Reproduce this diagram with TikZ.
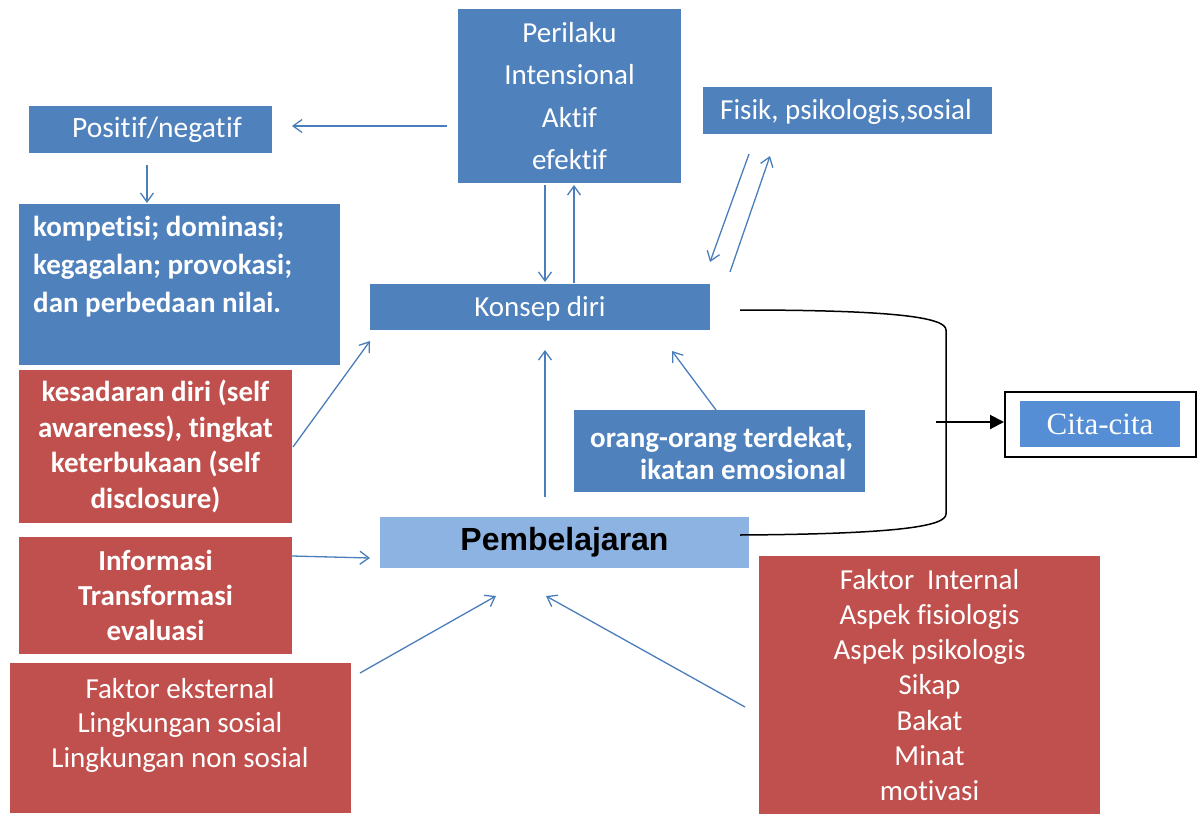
\documentclass[tikz,border=0pt]{standalone}
\usepackage{fontspec}
\setmainfont[RawFeature={-liga;-clig;-dlig;-calt}]{Carlito}
\newfontfamily\arialf{Liberation Sans}
\newfontfamily\timesf{Liberation Serif}
\usetikzlibrary{arrows.meta}
\definecolor{bluebox}{HTML}{4F81BD}
\definecolor{redbox}{HTML}{C0504D}
\definecolor{lightbox}{HTML}{8DB3E2}
\definecolor{citabox}{HTML}{558ED5}
\definecolor{arrowc}{HTML}{4A7EBB}
\begin{document}
\begin{tikzpicture}[x=1pt,y=-1pt,
  box/.style={anchor=north west, inner sep=0pt, outer sep=0pt, text=white, align=center,
    font=\fontsize{29}{35}\selectfont},
  bbox/.style={box, fill=bluebox},
  rbox/.style={box, fill=redbox},
  txt/.style={inner sep=0pt, text=white},
  arr/.style={draw=arrowc, line width=1.3pt, -{Straight Barb[length=9pt,width=13pt,line width=1.3pt]}},
]
\useasboundingbox (0,0) rectangle (1202,814);

% boxes
\node[bbox, minimum width=223, minimum height=174, font=\fontsize{29}{42.3}\selectfont]
  (perilaku) at (458,9) {Perilaku\\Intensional\\Aktif\\efektif};
\node[bbox, minimum width=243, minimum height=47] (positif) at (29,106) {};
\node[txt, font=\fontsize{29.5}{35}\selectfont] (positiftext) at (157,130) {Posit\kern0.6pt if/negat\kern0.6pt if};
\node[bbox, minimum width=321, minimum height=161] (kompetisi) at (19,204) {};
\node[txt, anchor=north west, align=left, font=\fontsize{29}{38}\selectfont\bfseries]
  (kompetisitext) at (33,216) {kompetisi; dominasi;\\kegagalan; provokasi;\\dan perbedaan nilai.};
\node[bbox, minimum width=289, minimum height=47] (fisik) at (703,87) {};
\node[txt, font=\fontsize{29}{35}\selectfont] (fisiktext) at (846,112) {Fisik, psikologis,sosial};
\node[bbox, minimum width=340, minimum height=46] (konsep) at (370,284) {};
\node[txt, font=\fontsize{29}{35}\selectfont] (konseptext) at (540,309) {Konsep diri};
\node[rbox, minimum width=273, minimum height=153, font=\fontsize{29}{35.5}\selectfont\bfseries]
  (kesadaran) at (19,370) {kesadaran diri (self\\awareness), tingkat\\keterbukaan (self\\disclosure)};
\node[bbox, minimum width=291, minimum height=82] (orang) at (574,410) {};
\node[txt, anchor=west, align=left, font=\fontsize{29}{32}\selectfont\bfseries]
  (orangtext) at (590,453) {orang-orang terdekat,\\\hspace*{50pt}ikatan emosional};
\node[box, fill=lightbox, minimum width=369, minimum height=51, text=black,
  font=\fontsize{32}{36}\selectfont\arialf\bfseries] (pemb) at (380,517) {Pembelajaran};
\node[rbox, minimum width=273, minimum height=117, font=\fontsize{29}{35}\selectfont\bfseries]
  (informasi) at (19,537) {Informasi\\Transformasi\\evaluasi};
\node[rbox, minimum width=341, minimum height=150] (eksternal) at (10,663) {};
\node[txt, align=center, font=\fontsize{29}{34.5}\selectfont]
  (eksternaltext) at (180,725) {Faktor eksternal\\Lingkungan sosial\\Lingkungan non sosial};
\node[rbox, minimum width=341, minimum height=258, font=\fontsize{29}{35.3}\selectfont]
  (internal) at (759,556) {Faktor~~Internal\\Aspek fisiologis\\Aspek psikologis\\Sikap\\Bakat\\Minat\\motivasi};
\node[anchor=north west, draw=black, line width=2pt, minimum width=191, minimum height=65, inner sep=0pt]
  (citaouter) at (1004,391) {};
\node[box, fill=citabox, minimum width=160, minimum height=46, font=\fontsize{31}{36}\selectfont\timesf]
  (cita) at (1020,401) {Cita-cita};

% connector end points
\coordinate (a1s) at (447,126); \coordinate (a1e) at (292,126);
\coordinate (a2s) at (147,165); \coordinate (a2e) at (147,203);
\coordinate (a3s) at (545,185); \coordinate (a3e) at (545,282);
\coordinate (a4s) at (574,283); \coordinate (a4e) at (574,185);
\coordinate (a5s) at (749,154); \coordinate (a5e) at (710,262);
\coordinate (a6s) at (730,272); \coordinate (a6e) at (770,156);
\coordinate (a7s) at (293,447); \coordinate (a7e) at (370,341);
\coordinate (a8s) at (716,410); \coordinate (a8e) at (672,351);
\coordinate (a9s) at (545,497); \coordinate (a9e) at (545,350);
\coordinate (a10s) at (292,556); \coordinate (a10e) at (370,558);
\coordinate (a11s) at (360,673); \coordinate (a11e) at (496,596);
\coordinate (a12s) at (745,707); \coordinate (a12e) at (546,596);

\draw[arr] (a1s) -- (a1e);
\draw[arr] (a2s) -- (a2e);
\draw[arr] (a3s) -- (a3e);
\draw[arr] (a4s) -- (a4e);
\draw[arr] (a5s) -- (a5e);
\draw[arr] (a6s) -- (a6e);
\draw[arr] (a7s) -- (a7e);
\draw[arr] (a8s) -- (a8e);
\draw[arr] (a9s) -- (a9e);
\draw[arr] (a10s) -- (a10e);
\draw[arr] (a11s) -- (a11e);
\draw[arr] (a12s) -- (a12e);

% bracket to Cita-cita
\coordinate (bs) at (740,310);
\coordinate (bt) at (946,330);
\coordinate (bb) at (946,514);
\coordinate (be) at (740,535);
\draw[black, line width=1.5pt] (bs) .. controls (900,310) and (946,318) .. (bt) -- (bb)
  .. controls (946,526) and (900,534) .. (be);
\coordinate (cs) at (936,422);
\draw[black, line width=2pt, -{Triangle[length=14pt,width=14pt]}] (cs) -- (cs -| citaouter.west);
\end{tikzpicture}
\end{document}
